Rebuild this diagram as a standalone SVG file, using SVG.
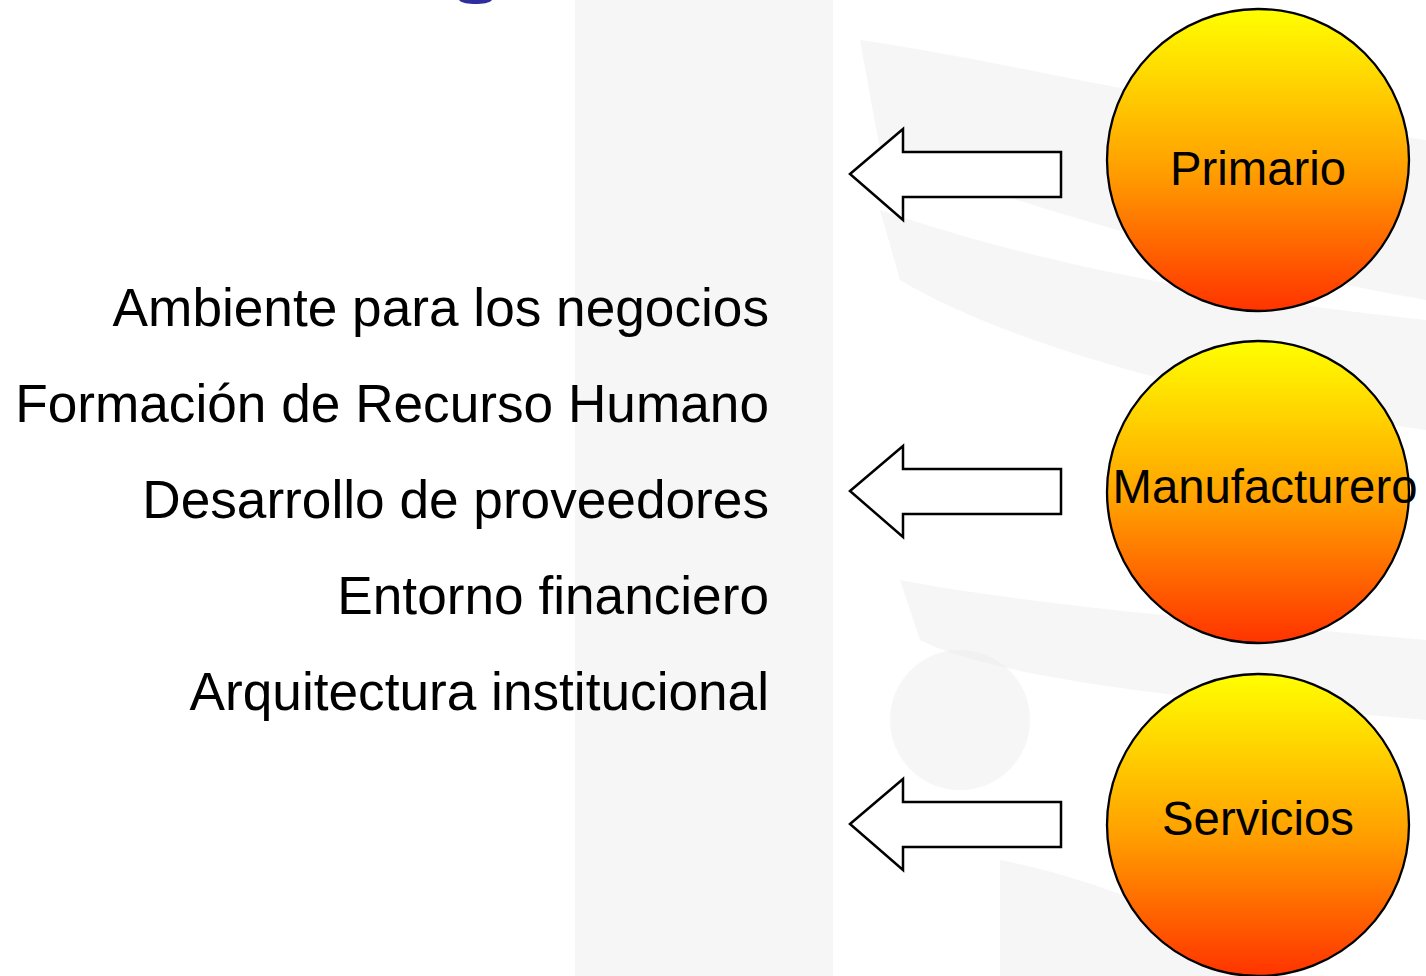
<svg xmlns="http://www.w3.org/2000/svg" width="1426" height="976" viewBox="0 0 1426 976">
  <defs>
    <linearGradient id="sun" x1="0" y1="0" x2="0" y2="1">
      <stop offset="0" stop-color="#ffff00"/>
      <stop offset="0.55" stop-color="#ff9c00"/>
      <stop offset="1" stop-color="#ff3300"/>
    </linearGradient>
    <style>
      .item { font-family: "Liberation Sans", Arial, sans-serif; font-size: 53.2px; fill: #000; text-anchor: end; }
      .lbl { font-family: "Liberation Sans", Arial, sans-serif; font-size: 47.3px; fill: #000; text-anchor: middle; }
      .node { fill: url(#sun); stroke: #000; stroke-width: 2.3; }
      .arrow { fill: #fff; stroke: #000; stroke-width: 2.5; stroke-linejoin: miter; }
      .wm { fill: #ececec; opacity: 0.45; }
    </style>
  </defs>
  <rect width="1426" height="976" fill="#ffffff"/>
  <g id="watermark">
    <rect class="wm" x="575" y="0" width="258" height="976"/>
    <path class="wm" d="M860 40 C1000 60 1150 100 1426 140 L1426 300 C1200 260 1000 200 880 150 Z"/>
    <path class="wm" d="M880 210 C1000 250 1150 290 1426 320 L1426 430 C1200 400 1000 340 900 280 Z"/>
    <path class="wm" d="M900 580 C1000 600 1200 620 1426 640 L1426 720 C1200 700 1000 680 920 640 Z"/>
    <ellipse class="wm" cx="960" cy="720" rx="70" ry="70"/>
    <path class="wm" d="M1000 860 C1100 880 1200 920 1260 976 L1000 976 Z"/>
  </g>
  <path id="title-fragment" d="M459 0 L492 0 C490 3 482 4 475.5 4 C469 4 461 3 459 0 Z" fill="#2e2e9e"/>
  <g id="factors">
    <text class="item" x="769" y="326">Ambiente para los negocios</text>
    <text class="item" x="769" y="422">Formación de Recurso Humano</text>
    <text class="item" x="769" y="518">Desarrollo de proveedores</text>
    <text class="item" x="769" y="614">Entorno financiero</text>
    <text class="item" x="769" y="710">Arquitectura institucional</text>
  </g>
  <g id="connectors">
    <path class="arrow" d="M850 174 L903 129 L903 152 L1061 152 L1061 197 L903 197 L903 220 Z"/>
    <path class="arrow" d="M850 491 L903 446 L903 469 L1061 469 L1061 514 L903 514 L903 537 Z"/>
    <path class="arrow" d="M850 824 L903 779 L903 802 L1061 802 L1061 847 L903 847 L903 870 Z"/>
  </g>
  <g id="node-primario">
    <circle class="node" cx="1258" cy="160" r="151"/>
    <text class="lbl" x="1258" y="185">Primario</text>
  </g>
  <g id="node-manufacturero">
    <circle class="node" cx="1258" cy="492" r="151"/>
    <text class="lbl" x="1265" y="503">Manufacturero</text>
  </g>
  <g id="node-servicios">
    <circle class="node" cx="1258" cy="825" r="151"/>
    <text class="lbl" x="1258" y="835">Servicios</text>
  </g>
</svg>
